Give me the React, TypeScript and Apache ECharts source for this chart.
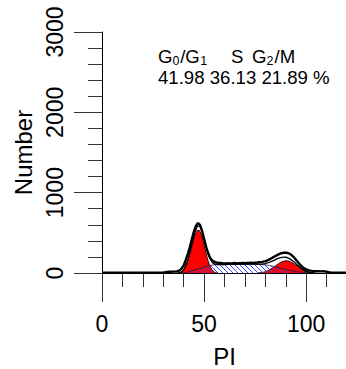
import React, { useEffect, useRef } from "react";
import * as echarts from "echarts";

// DNA content histogram (PI channel) with the cell-cycle model components.
const HIST_FIRST_CHANNEL = 30;
const histCounts = [
  6, 9, 14, 16, 15, 17, 18, 22, 32, 55,
  95, 160, 235, 320, 420, 515, 585, 622, 600, 525,
  425, 325, 245, 188, 156, 140, 131, 126, 124, 121,
  120, 118, 122, 119, 121, 124, 120, 123, 121, 125,
  122, 126, 124, 127, 125, 128, 130, 133, 136, 141,
  148, 158, 170, 183, 198, 212, 226, 238, 247, 252,
  254, 249, 238, 220, 195, 165, 133, 105, 80, 60,
  45, 36, 30, 26, 24, 22, 21, 20, 22, 20,
  16, 10, 6,
];
// flat, near-empty channels outside the populated range
const leadChannels = [0, 29];
const leadCounts = [4, 5];
const tailChannels = [113, 120];
const tailCounts = [4, 4];

// G0/G1 component
const G1_FIRST_CHANNEL = 37;
const g1Counts = [
  0, 5, 15, 40, 85, 150, 235, 330, 425, 495,
  535, 520, 450, 350, 245, 150, 80, 35, 12, 3, 0,
];

// S-phase component
const S_FIRST_CHANNEL = 39;
const sCounts = [
  0, 3, 7, 12, 20, 28, 35, 42, 49, 56,
  63, 71, 79, 87, 94, 99, 102, 104, 105, 105,
  106, 106, 106, 107, 107, 107, 108, 108, 108, 109,
  109, 109, 110, 110, 110, 110, 110, 109, 108, 106,
  104, 101, 98, 94, 89, 83, 77, 70, 63, 56,
  49, 43, 37, 32, 27, 23, 19, 15, 12, 9,
  7, 5, 4, 3, 2, 1, 0,
];

// G2/M component
const G2_FIRST_CHANNEL = 76;
const g2Counts = [
  0, 2, 5, 10, 17, 27, 40, 55, 72, 90,
  108, 124, 138, 148, 153, 151, 144, 132, 116, 97,
  78, 59, 42, 28, 17, 9, 4, 1, 0,
];

const phasePercents = [41.98, 36.13, 21.89];

const xTicksMajor = { min: 0, max: 120, interval: 50 };
const yTicks = { min: 0, max: 3000, interval: 1000 };

const toPairs = (first: number, counts: number[]) =>
  counts.map((v, i) => [first + i, v]);

const FONT = "Liberation Sans";

export default function App() {
  const ref = useRef<HTMLDivElement>(null);

  useEffect(() => {
    if (!ref.current) return;
    const chart = echarts.init(ref.current, undefined, { renderer: "svg" });

    // diagonal blue hatching for the S-phase area
    const tile = 5;
    const hatch = document.createElement("canvas");
    hatch.width = tile;
    hatch.height = tile;
    const ctx = hatch.getContext("2d")!;
    ctx.strokeStyle = "#3a48ff";
    ctx.lineWidth = 1;
    ctx.beginPath();
    ctx.moveTo(-1, -1);
    ctx.lineTo(tile + 1, tile + 1);
    ctx.stroke();

    const histData = [
      ...leadChannels.map((c, i) => [c, leadCounts[i]]),
      ...toPairs(HIST_FIRST_CHANNEL, histCounts),
      ...tailChannels.map((c, i) => [c, tailCounts[i]]),
    ];
    const g1Data = toPairs(G1_FIRST_CHANNEL, g1Counts);
    const sData = toPairs(S_FIRST_CHANNEL, sCounts);
    const g2Data = toPairs(G2_FIRST_CHANNEL, g2Counts);

    // overall fit = sum of the three components
    const compAt = (first: number, counts: number[], ch: number) => {
      const k = ch - first;
      return k >= 0 && k < counts.length ? counts[k] : 0;
    };
    const fitData: number[][] = [];
    for (let ch = G1_FIRST_CHANNEL; ch <= G2_FIRST_CHANNEL + g2Counts.length - 1; ch++) {
      fitData.push([
        ch,
        compAt(G1_FIRST_CHANNEL, g1Counts, ch) +
          compAt(S_FIRST_CHANNEL, sCounts, ch) +
          compAt(G2_FIRST_CHANNEL, g2Counts, ch),
      ]);
    }

    const labelFont = { fontFamily: FONT, fontSize: 23, color: "#000" };
    const tickLine = { color: "#333", width: 1 };

    // phase header pieces: main text and subscripts
    const MAIN = 18.6;
    const SUB = 12.5;
    const mainY = 56.4;
    const subY = 60.5;
    const headerPieces = [
      { t: "G", x: 158, sub: false },
      { t: "0", x: 172.6, sub: true },
      { t: "/G", x: 180.2, sub: false },
      { t: "1", x: 200.2, sub: true },
      { t: "S", x: 231, sub: false },
      { t: "G", x: 252, sub: false },
      { t: "2", x: 266.6, sub: true },
      { t: "/M", x: 274.6, sub: false },
    ];

    chart.setOption({
      animation: false,
      backgroundColor: "#fff",
      grid: {
        left: 102,
        top: 32,
        width: 245,
        height: 241,
        containLabel: false,
        outerBoundsMode: "none",
      },
      xAxis: [
        {
          type: "value",
          position: "bottom",
          ...xTicksMajor,
          axisLine: { show: true, lineStyle: { color: "#000", width: 1 } },
          axisTick: { show: true, length: 29, lineStyle: tickLine },
          axisLabel: {
            ...labelFont,
            margin: 39,
            formatter: (v: number) => (v === xTicksMajor.max ? "" : String(v)),
          },
          splitLine: { show: false },
          name: "PI",
          nameLocation: "middle",
          nameGap: 71,
          nameTextStyle: { fontFamily: FONT, fontSize: 24, color: "#000" },
        },
        {
          type: "value",
          position: "bottom",
          min: 0,
          max: 120,
          interval: 10,
          axisLine: { show: false },
          axisTick: { show: true, length: 14, lineStyle: tickLine },
          axisLabel: { show: false },
          splitLine: { show: false },
        },
      ],
      yAxis: {
        type: "value",
        ...yTicks,
        axisLine: { show: true, lineStyle: { color: "#000", width: 1 } },
        axisTick: { show: true, length: 28, lineStyle: tickLine },
        minorTick: { show: true, splitNumber: 5, length: 14, lineStyle: tickLine },
        axisLabel: { ...labelFont, rotate: 90, margin: 36, formatter: (v: number) => String(v) },
        splitLine: { show: false },
        minorSplitLine: { show: false },
        name: "Number",
        nameLocation: "middle",
        nameGap: 65,
        nameTextStyle: { fontFamily: FONT, fontSize: 24, color: "#000" },
      },
      series: [
        {
          name: "G0/G1",
          type: "line",
          data: g1Data,
          smooth: 0.3,
          symbol: "none",
          z: 2,
          lineStyle: { color: "#000", width: 0.8 },
          areaStyle: { color: "#ff0000", opacity: 1 },
        },
        {
          name: "G2/M",
          type: "line",
          data: g2Data,
          smooth: 0.3,
          symbol: "none",
          z: 2,
          lineStyle: { color: "#000", width: 0.8 },
          areaStyle: { color: "#ff0000", opacity: 1 },
        },
        {
          name: "S",
          type: "line",
          data: sData,
          smooth: 0.3,
          symbol: "none",
          z: 3,
          lineStyle: { color: "#1a1a40", width: 0.8 },
          areaStyle: {
            color: { image: hatch, repeat: "repeat", imageWidth: tile, imageHeight: tile },
            opacity: 1,
          },
        },
        {
          name: "Fit",
          type: "line",
          data: fitData,
          smooth: 0.3,
          symbol: "none",
          z: 4,
          lineStyle: { color: "#000", width: 1.3 },
        },
        {
          name: "PI",
          type: "line",
          data: histData,
          symbol: "none",
          z: 5,
          lineStyle: { color: "#000", width: 2.4 },
        },
      ],
      graphic: [
        ...headerPieces.map((p) => ({
          type: "text",
          x: p.x,
          y: p.sub ? subY : mainY,
          style: {
            text: p.t,
            fontFamily: FONT,
            fontSize: p.sub ? SUB : MAIN,
            lineHeight: p.sub ? 9 : 19,
            fill: "#000",
            align: "left",
            verticalAlign: "middle",
          },
        })),
        {
          type: "text",
          x: 158,
          y: 77,
          style: {
            text: `${phasePercents.map((p) => p.toFixed(2)).join(" ")} %`,
            fontFamily: FONT,
            fontSize: MAIN,
            lineHeight: 15,
            fill: "#000",
            align: "left",
            verticalAlign: "middle",
          },
        },
      ],
    });

    return () => chart.dispose();
  }, []);

  return (
    <div
      ref={ref}
      style={{ position: "fixed", left: 0, top: 0, width: 346, height: 369, background: "#fff" }}
    />
  );
}
